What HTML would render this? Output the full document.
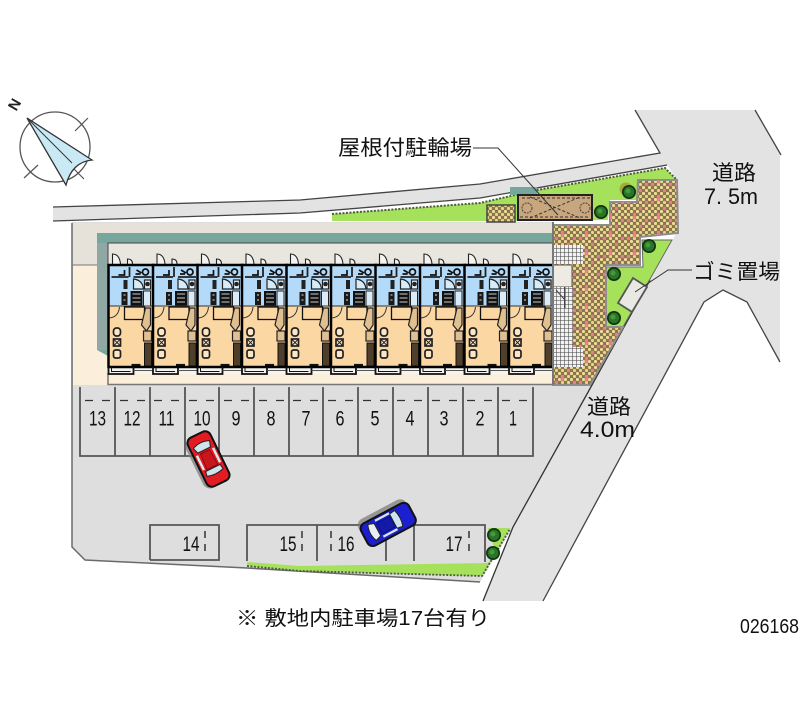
<!DOCTYPE html>
<html><head><meta charset="utf-8"><style>
html,body{margin:0;padding:0;background:#fff;width:800px;height:727px;overflow:hidden}
svg{display:block;filter:blur(.35px)}
text{font-family:"Liberation Sans","Noto Sans CJK JP",sans-serif;fill:#111}
</style></head><body>
<svg width="800" height="727" viewBox="0 0 800 727" xmlns="http://www.w3.org/2000/svg">
<defs>
<pattern id="brick" width="6" height="6" patternUnits="userSpaceOnUse">
<rect width="6" height="6" fill="#85744f"/>
<circle cx="1.500" cy="1.500" r="1.600" fill="#f0dd92"/><circle cx="4.500" cy="4.500" r="1.600" fill="#ebd582"/>
</pattern>
<pattern id="pink" width="24" height="18" patternUnits="userSpaceOnUse">
<circle cx="4.500" cy="4.500" r="1.700" fill="#ea7d94"/><circle cx="16.500" cy="10.500" r="1.700" fill="#ea7d94"/><circle cx="10.500" cy="16.500" r="1.700" fill="#ea7d94"/><circle cx="22.500" cy="4.500" r="1.700" fill="#ea7d94"/><circle cx="10.500" cy="1.500" r="1.700" fill="#ea7d94"/>
</pattern>
<pattern id="grid" width="4" height="4" patternUnits="userSpaceOnUse">
<rect width="4" height="4" fill="#f2f2f2"/><path d="M0 0H4M0 0V4" stroke="#444" stroke-width="1.100"/>
</pattern>
<g id="tree"><circle r="7" fill="#123512"/><circle r="5.300" fill="#2a7428"/><circle cx="-1" cy="-1" r="2.500" fill="#459a3a"/></g>
<g id="unit">
<path d="M4 -1V-11Q11 -11 12 -1M19 -1V-6Q24 -6 24 -1" fill="#f5f3ef" stroke="#222" stroke-width="1.100"/>
<rect x="0" y="0" width="45" height="41" fill="#b3daf8"/>
<rect x="0" y="41" width="45" height="61" fill="#fbd7a4"/>
<rect x="0" y="102" width="45" height="7" fill="#f4f4f0"/>
<path d="M3 12H20M21 2V12M25 12H43" stroke="#222" stroke-width="1.800"/>
<path d="M10 10h6v-5M28 5l5 3M34 7a3 3 0 1 0 6 0a3 3 0 1 0-6 0M27 9h5" fill="none" stroke="#111" stroke-width="1.700"/>
<path d="M25 14V24H35Q34 15 25 14Z" fill="#d8ecf8" stroke="#222" stroke-width="1.200"/>
<rect x="36" y="15" width="6" height="9" fill="#e8f2f8" stroke="#222" stroke-width="1.200"/><circle cx="39" cy="19" r="2.300" fill="#222"/>
<rect x="13" y="27" width="6" height="13" fill="#1a1a1a"/><rect x="15" y="15" width="4" height="9" fill="#222"/>
<path d="M15 30h2M15 35h2" stroke="#ddd"/>
<rect x="22" y="26" width="12" height="15" fill="#111"/><path d="M24 29h8M24 33h8M24 37h8" stroke="#ccc"/>
<rect x="35" y="26" width="7" height="15" fill="#d9ecf8" stroke="#222"/>
<path d="M0 41H45" stroke="#333" stroke-width="1"/>
<path d="M1 53Q10 52 11 42" fill="none" stroke="#333"/>
<rect x="16" y="42" width="20" height="12.500" fill="#fbd7a4" stroke="#111" stroke-width="1.300"/>
<rect x="5" y="63" width="7" height="8" rx="3" fill="#fbe7c8" stroke="#222" stroke-width="1.700"/>
<rect x="5" y="74" width="7" height="7" fill="#fbe7c8" stroke="#222" stroke-width="1.700"/><path d="M5 74l7 7M12 74l-7 7" stroke="#222" stroke-width=".9"/>
<rect x="5" y="85" width="7" height="8" rx="2" fill="#fbe7c8" stroke="#222" stroke-width="1.700"/>
<path d="M37 43 33 60 38 66 42 60 42 43Z" fill="#e0bf90" stroke="#222" stroke-width="1.200"/>
<rect x="35" y="66" width="8" height="10" fill="#e0bf90" stroke="#222" stroke-width="1.200"/>
<rect x="36" y="78" width="7" height="23" fill="#4f3f2a" stroke="#111"/>
<path d="M23 100h9" stroke="#111" stroke-width="2.200"/>
<rect x="0" y="0" width="45" height="102" fill="none" stroke="#000" stroke-width="2.500"/>
<path d="M0 102V109H25V102" fill="none" stroke="#111" stroke-width="1.800"/>
<path d="M25 105.500H45" stroke="#555" stroke-width="1"/>
<path d="M3 102v4.500H22" fill="none" stroke="#111" stroke-width="1"/>
</g>
<g id="dash"><path d="M0 0H8M17 0H25" stroke="#333" stroke-width="1.300"/></g>
<g id="vdash"><path d="M0 0V7M0 13V20" stroke="#333" stroke-width="1.500"/></g>
</defs>

<rect width="800" height="727" fill="#fff"/>

<!-- Upper road -->
<path d="M53 207 300 200 480 184 660 153 635 110H755L780 153V362L747 302 723 290 704 302 543 601H483L513 527 592 385 678 230 677 180 667 165 480 198 300 213 53 221Z" fill="#e3e3e3"/>
<path d="M53 207 300 200 480 184 660 153 635 110M755 110 781 155M780 362 747 302 723 290 704 302 543 601M53 221 300 213 480 198 667 165" fill="none" stroke="#444" stroke-width="1.300"/>

<!-- Lot -->
<path d="M72 222H552V385H592L513 527 480 582 247 568 85 560 72 547Z" fill="#dedede"/>
<path d="M72 223V547L85 560 247 568 480 582" fill="none" stroke="#6a6a6a" stroke-width="1.500"/>
<path d="M650 280 592 385 513 527 483 601" fill="none" stroke="#333" stroke-width="1.300"/>

<!-- Building surroundings -->
<rect x="73" y="223" width="480" height="42" fill="#e6e2da"/>
<rect x="73" y="265" width="24" height="120" fill="#fbeedb"/>
<rect x="97" y="350" width="456" height="35" fill="#fbeedb"/>
<path d="M72 265H108" stroke="#777" stroke-width="1"/>
<path d="M97 233H552V243H108V356L97 350Z" fill="#77a79c"/>
<rect x="97" y="243" width="11" height="107" fill="#8fa8a4"/>
<rect x="108" y="243" width="445" height="22" fill="#e9e5df" stroke="#444" stroke-width="1"/>
<rect x="97" y="366" width="456" height="18" fill="#fbeedb"/>
<path d="M108 373V384.500H553V364" fill="none" stroke="#777" stroke-width="1.500"/>

<!-- Units -->
<use href="#unit" x="108.500" y="265"/>
<use href="#unit" x="153" y="265"/>
<use href="#unit" x="197.500" y="265"/>
<use href="#unit" x="242" y="265"/>
<use href="#unit" x="286.500" y="265"/>
<use href="#unit" x="331" y="265"/>
<use href="#unit" x="375.500" y="265"/>
<use href="#unit" x="420" y="265"/>
<use href="#unit" x="464.500" y="265"/>
<use href="#unit" x="509" y="265"/>

<!-- Green areas -->
<path d="M332 214 480 203 537 190 665 168 677 180 638 180 637 200 610 200 608 220 485 221 332 221Z" fill="#a5e15a"/>
<path d="M332 214 480 203 537 190 665 168 677 180" fill="none" stroke="#4d5a40" stroke-width="2" stroke-dasharray="2 1.500"/>
<path d="M642 240H672L623 327H606V267H643Z" fill="#a5e15a" stroke="#666" stroke-width="1"/>
<path d="M247 562 300 566 487 563 497 557 488 528H510L482 576 300 571 247 566Z" fill="#a5e15a"/>
<path d="M247 566 300 571 482 576 510 529" fill="none" stroke="#4d5a40" stroke-width="1.800" stroke-dasharray="2 1.500"/>

<!-- Paving -->
<path d="M638 180H677L678 233 640 237V265H606V327H623L590 385H553V225H610V202H637Z" fill="url(#brick)" stroke="#8d8d8d" stroke-width="2"/>
<path d="M638 180H677L678 233 640 237V265H606V327H623L590 385H553V225H610V202H637Z" fill="url(#pink)"/>

<!-- Stairs -->
<rect x="552" y="245" width="31" height="19" fill="url(#grid)"/>
<rect x="553" y="265" width="19" height="22" fill="#eeeae4" stroke="#555"/>
<rect x="554" y="287" width="19" height="80" fill="url(#grid)"/>
<rect x="573" y="347" width="10" height="20" fill="url(#grid)"/>
<path d="M556 290 565 300M565 287V308" stroke="#444"/>
<rect x="552" y="222" width="2" height="163" fill="#777"/>

<!-- Bicycle roof -->
<path d="M510 187H537V195H510Z" fill="#77a79c"/>
<rect x="487" y="205" width="28" height="17" fill="url(#brick)" stroke="#444" stroke-width="1.500"/>
<rect x="518" y="195" width="74" height="25" fill="#c8a67e" stroke="#222" stroke-width="2"/>
<path d="M530 197 580 218M530 218 580 197M520 217H590M522 198H590" stroke="#333" stroke-width="1" stroke-dasharray="3 2" fill="none"/>
<circle cx="527" cy="208" r="5" fill="none" stroke="#444" stroke-dasharray="2 1"/><circle cx="585" cy="208" r="5" fill="none" stroke="#444" stroke-dasharray="2 1"/>

<!-- Trash area -->
<path d="M633 278 647 287 632 312 618 303Z" fill="#e9e9e3" stroke="#555" stroke-width="1.800"/>

<!-- Trees -->
<circle cx="626" cy="189" r="6.500" fill="#a6a83c"/>
<use href="#tree" x="629" y="192"/><use href="#tree" x="601" y="212"/><use href="#tree" x="649" y="246"/><use href="#tree" x="614" y="274"/><use href="#tree" x="614" y="318"/><use href="#tree" x="494" y="535"/><use href="#tree" x="493" y="553"/>

<!-- Parking upper -->
<path d="M80 387V456H533V387M115 387V456M150 387V456M185 387V456M219 387V456M254 387V456M289 387V456M323 387V456M358 387V456M393 387V456M428 387V456M463 387V456M498 387V456" fill="none" stroke="#555" stroke-width="1.800"/>
<use href="#dash" x="85" y="400.500"/><use href="#dash" x="120" y="400.500"/><use href="#dash" x="154" y="400.500"/><use href="#dash" x="189" y="400.500"/><use href="#dash" x="224" y="400.500"/><use href="#dash" x="259" y="400.500"/><use href="#dash" x="293" y="400.500"/><use href="#dash" x="328" y="400.500"/><use href="#dash" x="363" y="400.500"/><use href="#dash" x="397" y="400.500"/><use href="#dash" x="432" y="400.500"/><use href="#dash" x="467" y="400.500"/><use href="#dash" x="502" y="400.500"/>
<g font-size="21" text-anchor="middle">
<text x="97.500" y="425.500" textLength="17" lengthAdjust="spacingAndGlyphs">13</text>
<text x="132" y="425.500" textLength="17" lengthAdjust="spacingAndGlyphs">12</text>
<text x="166.500" y="425.500" textLength="16" lengthAdjust="spacingAndGlyphs">11</text>
<text x="202" y="425.500" textLength="17" lengthAdjust="spacingAndGlyphs">10</text>
<text x="236" y="425.500" textLength="9" lengthAdjust="spacingAndGlyphs">9</text>
<text x="271" y="425.500" textLength="9" lengthAdjust="spacingAndGlyphs">8</text>
<text x="306" y="425.500" textLength="9" lengthAdjust="spacingAndGlyphs">7</text>
<text x="340" y="425.500" textLength="9" lengthAdjust="spacingAndGlyphs">6</text>
<text x="375" y="425.500" textLength="9" lengthAdjust="spacingAndGlyphs">5</text>
<text x="410" y="425.500" textLength="9" lengthAdjust="spacingAndGlyphs">4</text>
<text x="444" y="425.500" textLength="9" lengthAdjust="spacingAndGlyphs">3</text>
<text x="480" y="425.500" textLength="9" lengthAdjust="spacingAndGlyphs">2</text>
<text x="513" y="425.500" textLength="8" lengthAdjust="spacingAndGlyphs">1</text>
</g>

<!-- Parking lower -->
<path d="M150 560V525H219V560H150" fill="none" stroke="#555" stroke-width="1.800"/>
<path d="M247 561V525H485V562M317 525V561M386 525V561M414 525V561" fill="none" stroke="#555" stroke-width="1.800"/>
<use href="#vdash" x="205" y="531"/><use href="#vdash" x="302" y="531"/><use href="#vdash" x="331" y="531"/><use href="#vdash" x="469" y="531"/>
<g font-size="21" text-anchor="middle">
<text x="191" y="551" textLength="17" lengthAdjust="spacingAndGlyphs">14</text>
<text x="288" y="551" textLength="17" lengthAdjust="spacingAndGlyphs">15</text>
<text x="346" y="551" textLength="17" lengthAdjust="spacingAndGlyphs">16</text>
<text x="454" y="551" textLength="17" lengthAdjust="spacingAndGlyphs">17</text>
</g>

<!-- Red car -->
<g transform="translate(208.500 459) rotate(-26)">
<rect x="-16" y="-26" width="26" height="54" rx="8" fill="#777" opacity=".7"/>
<rect x="-12.500" y="-27" width="25" height="54" rx="6" fill="#e31b23" stroke="#111" stroke-width="2"/>
<path d="M-9 -16Q0 -20 9 -16L7 -10H-7Z" fill="#cfe3ef" stroke="#222"/>
<path d="M-8 10H8L9 15Q0 18 -9 15Z" fill="#cfe3ef" stroke="#222"/>
<path d="M-9 -8V8M9 -8V8" stroke="#d6e8f0" stroke-width="2.500"/>
<path d="M-5 -8 5 -8 6 9H-6Z" fill="#c8161f" stroke="#700" stroke-width=".7"/>
</g>

<!-- Blue car -->
<g transform="translate(388 524) rotate(-28)">
<rect x="-28" y="-17" width="54" height="26" rx="7" fill="#777" opacity=".7"/>
<rect x="-27" y="-12" width="54" height="25" rx="6" fill="#1c1fd0" stroke="#111" stroke-width="2"/>
<path d="M-18 -9Q-22 0 -18 9L-12 7V-7Z" fill="#e8eef2" stroke="#222"/>
<path d="M6 -8 12 -9Q15 0 12 9L6 8Z" fill="#cfe3ef" stroke="#222"/>
<path d="M-10 -9H6M-10 9H6" stroke="#d6e8f0" stroke-width="2.200"/>
<path d="M-10 -6 H5V6H-10Z" fill="#1519a8" stroke="#001070" stroke-width=".7"/>
</g>

<!-- Compass -->
<circle cx="55" cy="147" r="35" fill="#fff" stroke="#555" stroke-width="1.300"/>
<path d="M75 131 88 118M38 165 24 178M70 165 84 179" stroke="#555" stroke-width="1.200"/>
<path d="M27 118 92 160Q72 162 66 185Z" fill="#c9e9f5" stroke="#333" stroke-width="1.300"/>
<path d="M27 118 72 163" stroke="#333" stroke-width="1"/>
<text font-size="15" font-weight="bold" text-anchor="middle" transform="translate(19 107) rotate(-60)" style="fill:#222">N</text>

<!-- Leaders -->
<path d="M473 148H498L558 215" fill="none" stroke="#333" stroke-width="1"/>
<path d="M692 270H668L635 292" fill="none" stroke="#333" stroke-width="1"/>

<!-- Labels -->
<text x="338" y="155" font-size="21" textLength="134" lengthAdjust="spacingAndGlyphs">屋根付駐輪場</text>
<text x="712" y="180" font-size="21" textLength="44" lengthAdjust="spacingAndGlyphs">道路</text>
<text x="704" y="204" font-size="22" textLength="54" lengthAdjust="spacingAndGlyphs">7. 5m</text>
<text x="693" y="279" font-size="21" textLength="87" lengthAdjust="spacingAndGlyphs">ゴミ置場</text>
<text x="587" y="414" font-size="21" textLength="44" lengthAdjust="spacingAndGlyphs">道路</text>
<text x="580" y="437" font-size="22" textLength="55" lengthAdjust="spacingAndGlyphs">4.0m</text>
<text x="236" y="625" font-size="20" textLength="254" lengthAdjust="spacingAndGlyphs">※ 敷地内駐車場17台有り</text>
<text x="740" y="633" font-size="20" textLength="59" lengthAdjust="spacingAndGlyphs">026168</text>
</svg>
</body></html>
